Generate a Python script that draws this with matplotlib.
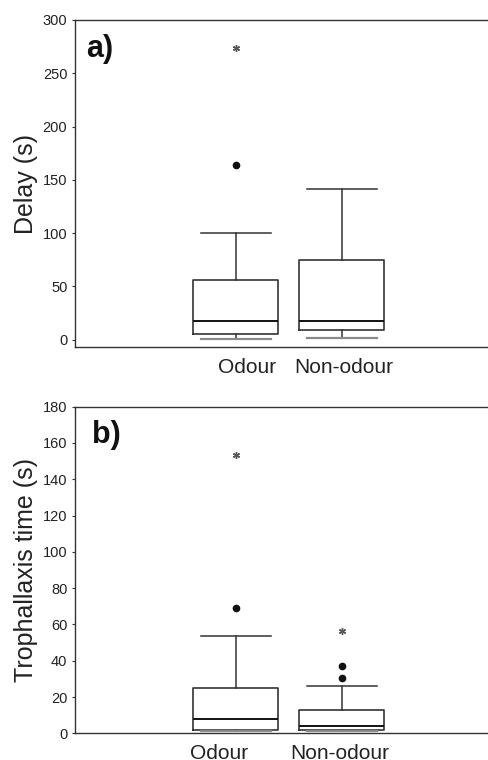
import matplotlib
matplotlib.use("Agg")
import matplotlib.pyplot as plt

plt.rcParams['font.family'] = ['Liberation Sans', 'DejaVu Sans']

groups = ["Odour", "Non-odour"]

# panel a) delay (s): whislo, q1, median, q3, whishi
delay_lo = [1, 2]
delay_q1 = [5, 9]
delay_med = [17.5, 18]
delay_q3 = [56.5, 75]
delay_hi = [100, 141]
delay_out_dot = [(1, 164)]
delay_out_star = [(1, 274)]

# panel b) trophallaxis time (s)
troph_lo = [1.5, 1.5]
troph_q1 = [1.8, 1.8]
troph_med = [8.1, 4.3]
troph_q3 = [24.8, 12.7]
troph_hi = [53.8, 25.9]
troph_out_dot = [(1, 69.3), (2, 30.3), (2, 37.3)]
troph_out_star = [(1, 153.4), (2, 56.1)]

INK = '#222222'
BOX = '#333333'


def draw_panel(ax, lo, q1, med, q3, hi, dots, stars, ylim, yticks, ylabel,
               tag, tag_xy, label_pos):
    stats = []
    for i in range(len(groups)):
        stats.append(dict(whislo=lo[i], q1=q1[i], med=med[i], q3=q3[i],
                          whishi=hi[i], fliers=[], label=groups[i]))
    res = ax.bxp(stats, positions=[1, 2], widths=0.8, capwidths=0.66,
                 showfliers=False,
                 boxprops=dict(color=BOX, linewidth=1.2),
                 whiskerprops=dict(color=BOX, linewidth=1.1),
                 capprops=dict(color=BOX, linewidth=1.1),
                 medianprops=dict(color='#111111', linewidth=1.4))
    # lower caps look grey in the original
    for k in (0, 2):
        res['caps'][k].set_color('#8a8a8a')
        res['caps'][k].set_linewidth(1.6)

    ax.plot([p[0] for p in dots], [p[1] for p in dots], 'o', color='#111111',
            ms=4.5, ls='none')
    ax.plot([p[0] for p in stars], [p[1] for p in stars], marker=(6, 2, 0),
            color='#555555', ms=5, mew=1.0, ls='none')

    ax.set_xlim(-0.516, 3.39)
    ax.set_ylim(*ylim)
    ax.set_yticks(yticks)
    ax.set_xticks(label_pos)
    ax.set_xticklabels(groups, fontsize=15, color=INK)
    ax.tick_params(axis='x', length=0, pad=8)
    ax.tick_params(axis='y', length=2.5, width=0.8, color=BOX, pad=3,
                   labelsize=10.5, labelcolor=INK)
    ax.spines['right'].set_visible(False)
    for s in ('left', 'top', 'bottom'):
        ax.spines[s].set_color(BOX)
        ax.spines[s].set_linewidth(1.0)
    ax.set_ylabel(ylabel, fontsize=18, color=INK, va='center')
    ax.yaxis.set_label_coords(-0.118, 0.5)
    ax.text(tag_xy[0], tag_xy[1], tag, transform=ax.transAxes, fontsize=22,
            fontweight='bold', color='#111111', va='baseline', ha='left')


fig = plt.figure(figsize=(4.89, 7.6), dpi=100)
ax1 = fig.add_axes([0.1534, 0.5434, 0.8466, 0.4303])
ax2 = fig.add_axes([0.1534, 0.0351, 0.8466, 0.4299])

draw_panel(ax1, delay_lo, delay_q1, delay_med, delay_q3, delay_hi,
           delay_out_dot, delay_out_star, (-6.85, 300), range(0, 301, 50),
           "Delay (s)", "a)", (0.027, 0.887), [1.107, 2.02])
draw_panel(ax2, troph_lo, troph_q1, troph_med, troph_q3, troph_hi,
           troph_out_dot, troph_out_star, (0, 180), range(0, 181, 20),
           "Trophallaxis time (s)", "b)", (0.041, 0.889), [0.84, 1.98])

fig.savefig("out.png", dpi=100)
